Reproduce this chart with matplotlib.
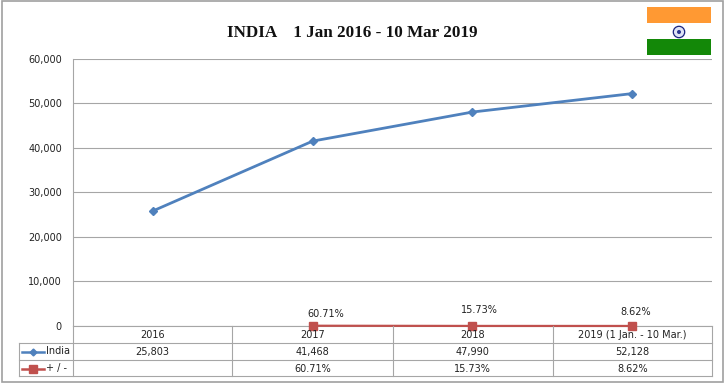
import matplotlib
matplotlib.use("Agg")
import matplotlib.pyplot as plt
from matplotlib.lines import Line2D
from matplotlib.patches import Rectangle, Circle

categories = ["2016", "2017", "2018", "2019 (1 Jan. - 10 Mar.)"]
india = [25803, 41468, 47990, 52128]
change_pct = [None, 60.71, 15.73, 8.62]
yticks = [0, 10000, 20000, 30000, 40000, 50000, 60000]
title = "INDIA    1 Jan 2016 - 10 Mar 2019"
series_names = ["India", "+ / -"]

W, H = 725, 383
BLUE, RED, GRID, TXT = "#4f81bd", "#c0504d", "#a6a6a6", "#222222"
FS = 7.0
plt.rcParams["font.family"] = "DejaVu Sans"

fig = plt.figure(figsize=(W / 100, H / 100), dpi=100, facecolor="white")

L, R, T, B = 73, 712, 58.5, 326
ax = fig.add_axes([L / W, 1 - B / H, (R - L) / W, (B - T) / H])
ax.set_xlim(-0.5, 3.5)
ax.set_ylim(0, 60000)
ax.set_yticks(yticks)
ax.set_yticklabels([f"{v:,}" for v in yticks], fontsize=FS, color=TXT)
ax.set_xticks([])
ax.tick_params(axis="y", length=0, pad=8)
ax.grid(axis="y", color=GRID, lw=0.8)
ax.set_axisbelow(True)
for s in ["top", "right"]:
    ax.spines[s].set_visible(False)
for s in ["left", "bottom"]:
    ax.spines[s].set_color(GRID)
    ax.spines[s].set_linewidth(0.8)

x = list(range(len(categories)))
ax.plot(x, india, color=BLUE, lw=2, marker="D", ms=4.5, clip_on=False, zorder=3)
xp = [i for i, v in zip(x, change_pct) if v is not None]
yp = [v for v in change_pct if v is not None]
ax.plot(xp, yp, color=RED, lw=1.6, marker="s", ms=6, clip_on=False, zorder=4)
label_off = {60.71: (13, 12), 15.73: (7.5, 16), 8.62: (4, 14)}
for i, v in zip(xp, yp):
    dx, dy = label_off[v]
    ax.annotate(f"{v:.2f}%", (i, v), xytext=(dx * 0.72, dy * 0.72), textcoords="offset points",
                ha="center", va="center", fontsize=FS, color=TXT)


def px_line(x0, y0, x1, y1, color=GRID, lw=0.8, **kw):
    fig.add_artist(Line2D([x0 / W, x1 / W], [1 - y0 / H, 1 - y1 / H], color=color, lw=lw,
                          transform=fig.transFigure, **kw))


def px_text(xp_, yp_, s, ha="center", **kw):
    fig.text(xp_ / W, 1 - yp_ / H, s, ha=ha, va="center", fontsize=FS, color=TXT, **kw)


# outer frame
fig.add_artist(Rectangle((1.5 / W, 1 - 381.5 / H), 721.5 / W, 380.5 / H, fill=False, ec="#a0a0a0", lw=1.2,
                         transform=fig.transFigure))

# data table
rows = [326, 343, 359.5, 376]
cols = [73, 232.5, 392.5, 552.5, 712]
leg_left = 19
for c in cols:
    px_line(c, rows[0], c, rows[3])
px_line(leg_left, rows[1], leg_left, rows[3])
for r in rows[1:]:
    px_line(leg_left, r, R, r)

india_row = [f"{v:,}" for v in india]
pct_row = ["" if v is None else f"{v:.2f}%" for v in change_pct]
for j in range(4):
    cx = (cols[j] + cols[j + 1]) / 2
    px_text(cx, 335, categories[j])
    px_text(cx, 351.5, india_row[j])
    px_text(cx, 368.5, pct_row[j])

px_line(22, 351.5, 44, 351.5, color=BLUE, lw=1.8)
fig.add_artist(Line2D([33 / W], [1 - 351.5 / H], color=BLUE, marker="D", ms=3.5, ls="none", transform=fig.transFigure))
px_line(22, 368.5, 44, 368.5, color=RED, lw=1.8)
fig.add_artist(Line2D([33 / W], [1 - 368.5 / H], color=RED, marker="s", ms=5.5, ls="none", transform=fig.transFigure))
px_text(46, 351.5, series_names[0], ha="left")
px_text(46, 368.5, series_names[1], ha="left")

# title
fig.text(352 / W, 1 - 33 / H, title, ha="center", va="center", fontsize=12.3, fontweight="bold",
         family="Liberation Serif", color="#111111")

# flag
fig.add_artist(Rectangle((647 / W, 1 - 23 / H), 64 / W, 16 / H, fc="#ff9933", ec="none", transform=fig.transFigure))
fig.add_artist(Rectangle((647 / W, 1 - 55 / H), 64 / W, 16 / H, fc="#138808", ec="none", transform=fig.transFigure))
fax = fig.add_axes([669 / W, 1 - 42 / H, 20 / W, 20 / H])
fax.set_xlim(-10, 10)
fax.set_ylim(-10, 10)
fax.axis("off")
fax.add_patch(Circle((0, 0), 5.7, fc="#dfe3f5", ec="#1a237e", lw=0.9))
fax.add_patch(Circle((0, 0), 2.0, fc="#2a3590", ec="none"))

fig.savefig("out.png", dpi=100)
